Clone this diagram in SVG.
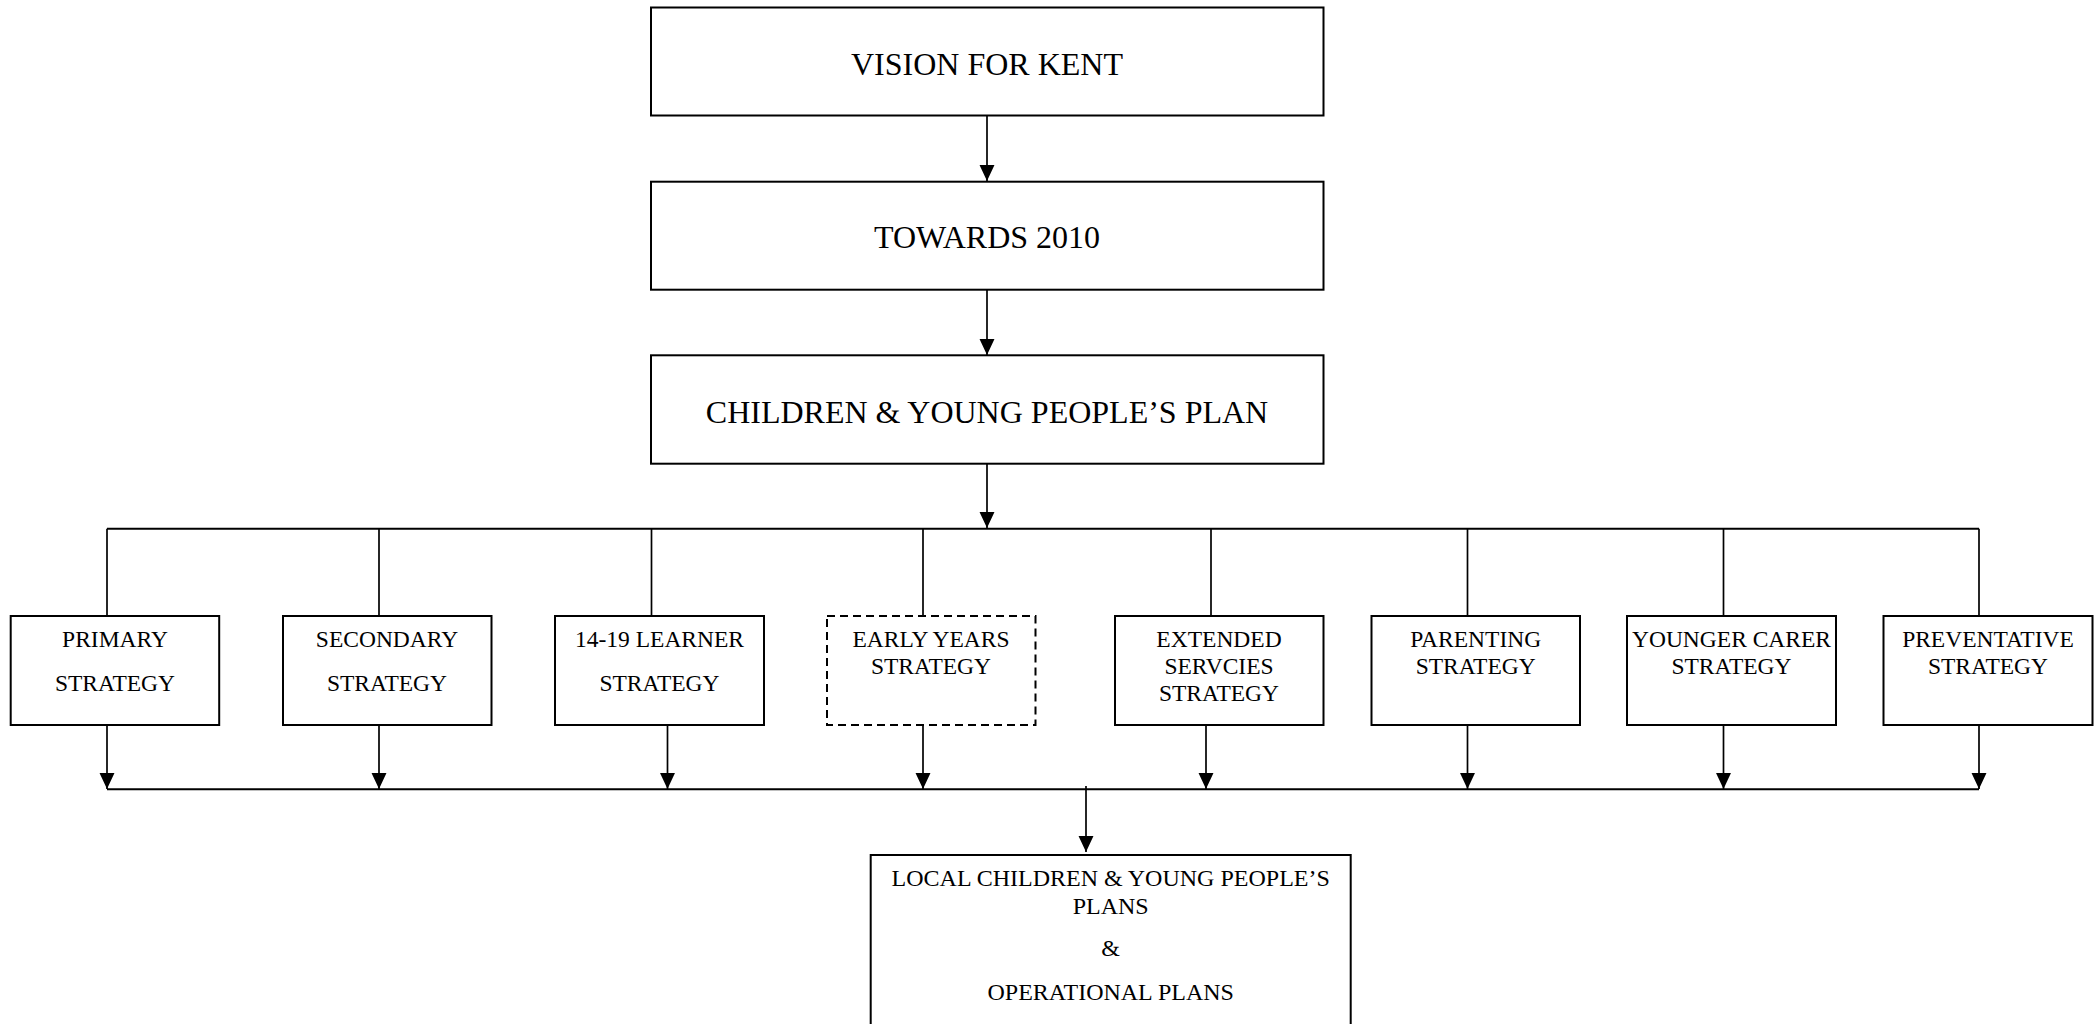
<svg xmlns="http://www.w3.org/2000/svg" width="2098" height="1024" viewBox="0 0 2098 1024">
<style>
.box{fill:#fff;stroke:#000;stroke-width:2}
.dash{fill:#fff;stroke:#000;stroke-width:2;stroke-dasharray:8 5}
.ln{fill:none;stroke:#000;stroke-width:1.7}
.t{font-family:"Liberation Serif","Times New Roman",serif;fill:#000;text-anchor:middle}
.big{font-size:32px}
.sm{font-size:23.5px}
.fin{font-size:24px}
</style>
<defs>
<marker id="ah" markerUnits="userSpaceOnUse" markerWidth="16" markerHeight="16" viewBox="0 0 14 15" refX="7" refY="15" orient="0" overflow="visible">
<path d="M0 0 L14 0 L7 15 Z" fill="#000"/>
</marker>
</defs>
<rect width="2098" height="1024" fill="#fff"/>
<g id="connectors">
<line class="ln" x1="987" y1="116" x2="987" y2="181" marker-end="url(#ah)"/>
<line class="ln" x1="987" y1="290" x2="987" y2="355" marker-end="url(#ah)"/>
<line class="ln" x1="987" y1="464" x2="987" y2="528" marker-end="url(#ah)"/>
<line class="ln" style="stroke-width:2" x1="107" y1="528.7" x2="1979" y2="528.7"/>
<line class="ln" x1="107" y1="528.7" x2="107" y2="616"/>
<line class="ln" x1="379" y1="528.7" x2="379" y2="616"/>
<line class="ln" x1="651.5" y1="528.7" x2="651.5" y2="616"/>
<line class="ln" x1="923" y1="528.7" x2="923" y2="616"/>
<line class="ln" x1="1211" y1="528.7" x2="1211" y2="616"/>
<line class="ln" x1="1467.5" y1="528.7" x2="1467.5" y2="616"/>
<line class="ln" x1="1723.5" y1="528.7" x2="1723.5" y2="616"/>
<line class="ln" x1="1979" y1="528.7" x2="1979" y2="616"/>
<line class="ln" x1="107" y1="725" x2="107" y2="789" marker-end="url(#ah)"/>
<line class="ln" x1="379" y1="725" x2="379" y2="789" marker-end="url(#ah)"/>
<line class="ln" x1="667.5" y1="725" x2="667.5" y2="789" marker-end="url(#ah)"/>
<line class="ln" x1="923" y1="725" x2="923" y2="789" marker-end="url(#ah)"/>
<line class="ln" x1="1206" y1="725" x2="1206" y2="789" marker-end="url(#ah)"/>
<line class="ln" x1="1467.5" y1="725" x2="1467.5" y2="789" marker-end="url(#ah)"/>
<line class="ln" x1="1723.5" y1="725" x2="1723.5" y2="789" marker-end="url(#ah)"/>
<line class="ln" x1="1979" y1="725" x2="1979" y2="789" marker-end="url(#ah)"/>
<line class="ln" style="stroke-width:2" x1="107" y1="789.3" x2="1979" y2="789.3"/>
<line class="ln" x1="1086" y1="786" x2="1086" y2="852" marker-end="url(#ah)"/>
</g>
<g id="vision">
<rect class="box" x="651" y="7.5" width="672.5" height="108"/>
<text class="t big" x="987" y="75">VISION FOR KENT</text>
</g>
<g id="towards2010">
<rect class="box" x="651" y="181.7" width="672.5" height="108"/>
<text class="t big" x="987" y="248.3">TOWARDS 2010</text>
</g>
<g id="cypp">
<rect class="box" x="651" y="355.3" width="672.5" height="108.4"/>
<text class="t big" x="987" y="423.3">CHILDREN &amp; YOUNG PEOPLE’S PLAN</text>
</g>
<g id="primary">
<rect class="box" x="10.7" y="616" width="208.5" height="109"/>
<text class="t sm" x="115" y="646.7">PRIMARY</text>
<text class="t sm" x="115" y="691">STRATEGY</text>
</g>
<g id="secondary">
<rect class="box" x="283" y="616" width="208.5" height="109"/>
<text class="t sm" x="387" y="646.7">SECONDARY</text>
<text class="t sm" x="387" y="691">STRATEGY</text>
</g>
<g id="learner1419">
<rect class="box" x="555" y="616" width="209" height="109"/>
<text class="t sm" x="659.5" y="646.7">14-19 LEARNER</text>
<text class="t sm" x="659.5" y="691">STRATEGY</text>
</g>
<g id="earlyyears">
<rect class="dash" x="827" y="616" width="208.5" height="109"/>
<text class="t sm" x="931" y="646.7">EARLY YEARS</text>
<text class="t sm" x="931" y="674.3">STRATEGY</text>
</g>
<g id="extended">
<rect class="box" x="1115" y="616" width="208.5" height="109"/>
<text class="t sm" x="1219" y="646.7">EXTENDED</text>
<text class="t sm" x="1219" y="674.3">SERVCIES</text>
<text class="t sm" x="1219" y="701">STRATEGY</text>
</g>
<g id="parenting">
<rect class="box" x="1371.5" y="616" width="208.5" height="109"/>
<text class="t sm" x="1475.7" y="646.7">PARENTING</text>
<text class="t sm" x="1475.7" y="674.3">STRATEGY</text>
</g>
<g id="youngercarer">
<rect class="box" x="1627" y="616" width="209" height="109"/>
<text class="t sm" x="1731.5" y="646.7">YOUNGER CARER</text>
<text class="t sm" x="1731.5" y="674.3">STRATEGY</text>
</g>
<g id="preventative">
<rect class="box" x="1883.5" y="616" width="209" height="109"/>
<text class="t sm" x="1988" y="646.7">PREVENTATIVE</text>
<text class="t sm" x="1988" y="674.3">STRATEGY</text>
</g>
<g id="localplans">
<rect class="box" x="870.7" y="855" width="480" height="180"/>
<text class="t fin" x="1110.7" y="885.7">LOCAL CHILDREN &amp; YOUNG PEOPLE’S</text>
<text class="t fin" x="1110.7" y="914">PLANS</text>
<text class="t fin" x="1110.7" y="956">&amp;</text>
<text class="t fin" x="1110.7" y="1000">OPERATIONAL PLANS</text>
</g>
</svg>
